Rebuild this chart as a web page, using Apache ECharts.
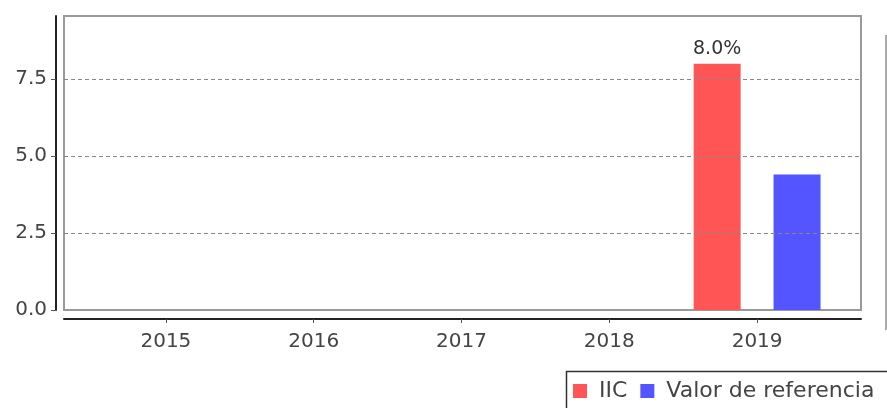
<!DOCTYPE html>
<html>
<head>
<meta charset="utf-8">
<script src="https://cdn.jsdelivr.net/npm/echarts@6/dist/echarts.min.js"></script>
<style>
html,body{margin:0;padding:0;background:#fff;}
#c{width:887px;height:408px;}
</style>
</head>
<body>
<div id="c"></div>
<script>
var categories = ['2015', '2016', '2017', '2018', '2019'];
var iicValues = [null, null, null, null, 8.0];
var refValues = [null, null, null, null, 4.4];
var seriesNames = ['IIC', 'Valor de referencia'];
var yTickValues = [0, 2.5, 5, 7.5];
var yRange = { min: 0, max: 9.55 };

var FONT = 'DejaVu Sans';
var chart = echarts.init(document.getElementById('c'), null, { renderer: 'canvas' });
chart.setOption({
  animation: false,
  backgroundColor: '#ffffff',
  textStyle: { fontFamily: FONT },
  grid: [
    { left: 64, top: 16, width: 797, height: 294, show: true, borderColor: '#9a9a9a', borderWidth: 2, backgroundColor: '#ffffff' },
    { left: 92, top: 16, width: 739, height: 294 }
  ],
  xAxis: [
    { type: 'category', gridIndex: 0, data: categories, offset: 9,
      axisLine: { show: true, onZero: false, lineStyle: { color: '#222', width: 2 } },
      axisTick: { show: false }, axisLabel: { show: false }, splitLine: { show: false } },
    { type: 'category', gridIndex: 1, data: categories, offset: 9,
      axisLine: { show: false, onZero: false },
      axisTick: { show: true, alignWithLabel: true, length: 4, lineStyle: { color: '#555', width: 1 } },
      axisLabel: { show: true, fontSize: 20, color: '#444', fontFamily: FONT, margin: 13 },
      splitLine: { show: false } }
  ],
  yAxis: [
    { type: 'value', gridIndex: 0, min: yRange.min, max: yRange.max, offset: 8,
      axisLine: { show: true, onZero: false, lineStyle: { color: '#222', width: 2 } },
      axisTick: { show: true, length: 5, customValues: yTickValues, lineStyle: { color: '#555', width: 1 } },
      axisLabel: { show: true, fontSize: 20, color: '#444', fontFamily: FONT, margin: 9,
        customValues: yTickValues,
        formatter: function (v) { return v.toFixed(1); } },
      splitLine: { show: false } },
    { type: 'value', gridIndex: 1, min: yRange.min, max: yRange.max, interval: 2.5,
      axisLine: { show: false }, axisTick: { show: false }, axisLabel: { show: false },
      splitLine: { show: false } }
  ],
  legend: {
    left: 573, top: 380,
    width: 320,
    data: seriesNames,
    icon: 'rect', itemWidth: 14, itemHeight: 14, itemGap: 13,
    borderWidth: 0, padding: 0,
    textStyle: { fontSize: 22, color: '#444', fontFamily: FONT, padding: [0, 0, 0, 7] }
  },
  graphic: [
    { type: 'line', shape: { x1: 886, y1: 35, x2: 886, y2: 330 }, style: { stroke: '#aaa', lineWidth: 2 } },
    { type: 'rect', z: -1, shape: { x: 566.5, y: 371.5, width: 340, height: 60 }, style: { fill: '#fff', stroke: '#333', lineWidth: 1.5 } }
  ],
  series: [
    { name: 'grid-lines', type: 'line', xAxisIndex: 0, yAxisIndex: 0, data: [],
      markLine: { silent: true, symbol: 'none', label: { show: false },
        lineStyle: { color: '#888', type: [4, 3], width: 1 },
        data: yTickValues.filter(function (v) { return v > 0; }).map(function (v) { return { yAxis: v }; }) } },
    { name: seriesNames[0], type: 'bar', xAxisIndex: 1, yAxisIndex: 1, data: iicValues,
      barWidth: 47, barGap: '70%', itemStyle: { color: '#FF5555' },
      label: { show: true, position: 'top', distance: 5, fontSize: 19, color: '#333', fontFamily: FONT,
        formatter: function (p) { return p.value == null ? '' : p.value.toFixed(1) + '%'; } } },
    { name: seriesNames[1], type: 'bar', xAxisIndex: 1, yAxisIndex: 1, data: refValues,
      barWidth: 47, barGap: '70%', itemStyle: { color: '#5555FF' } }
  ]
});
</script>
</body>
</html>
